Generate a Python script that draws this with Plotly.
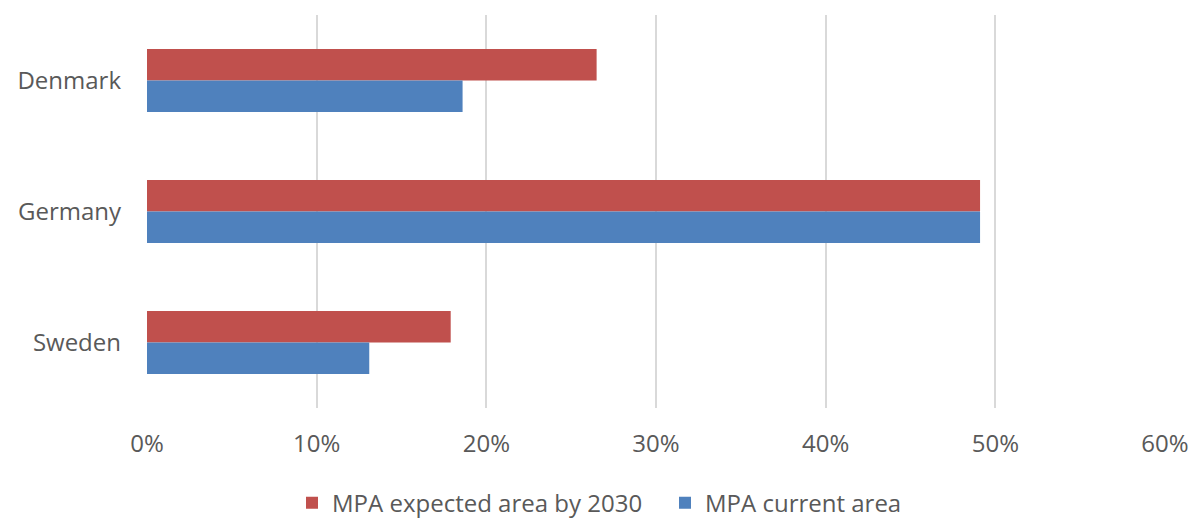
import plotly.graph_objects as go

countries = ["Denmark", "Germany", "Sweden"]
expected_2030 = [0.265, 0.491, 0.179]
current_area = [0.186, 0.491, 0.131]
series_names = ["MPA expected area by 2030", "MPA current area"]
tick_vals = [0, 0.1, 0.2, 0.3, 0.4, 0.5, 0.6]
tick_text = ["0%", "10%", "20%", "30%", "40%", "50%", "60%"]

fig = go.Figure()
fig.add_trace(go.Bar(y=countries, x=expected_2030, orientation="h",
                     name=series_names[0], marker=dict(color="#C0504D", line=dict(width=0))))
fig.add_trace(go.Bar(y=countries, x=current_area, orientation="h",
                     name=series_names[1], marker=dict(color="#4F81BD", line=dict(width=0))))

font_color = "#595959"
fig.update_layout(
    width=1203, height=520,
    margin=dict(l=139, r=46, t=7, b=120),
    plot_bgcolor="white", paper_bgcolor="white",
    barmode="group", bargap=0.52, bargroupgap=0,
    font=dict(family="Open Sans", size=24, color=font_color),
    showlegend=True,
    legend=dict(orientation="h", xref="container", yref="container",
                x=284 / 1203, xanchor="left", y=0.048, yanchor="middle",
                font=dict(size=24, color=font_color), itemwidth=30,
                entrywidth=328, entrywidthmode="pixels"),
    xaxis=dict(range=[0, 0.6], tickvals=tick_vals, ticktext=tick_text,
               showgrid=True, gridcolor="#D9D9D9", gridwidth=1.5,
               zeroline=False, showline=False, ticks="", ticklabelstandoff=19),
    yaxis=dict(autorange="reversed", showgrid=False, zeroline=False,
               showline=False, ticks="", ticklabelstandoff=25),
)
fig.write_html("out.html")
